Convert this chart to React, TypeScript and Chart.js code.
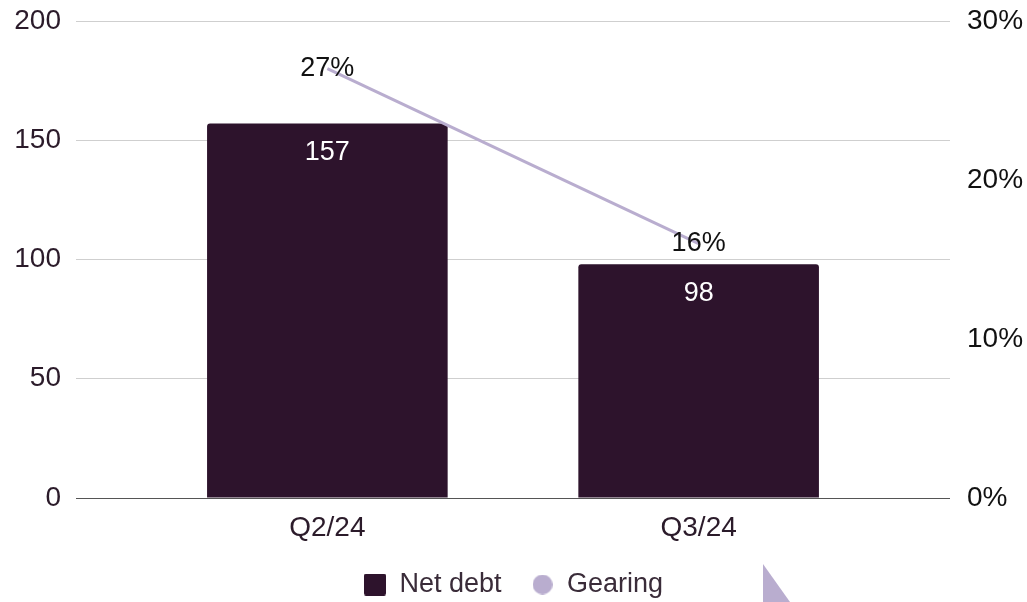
import React, { useEffect, useRef } from 'react';
import { Chart, registerables } from 'chart.js';

Chart.register(...registerables);

const categories = ['Q2/24', 'Q3/24'];
const netDebt = [157, 98];
const gearing = [0.27, 0.16];
const leftTicks = [0, 50, 100, 150, 200];
const rightTicks = [0, 0.1, 0.2, 0.3];
const seriesNames = ['Net debt', 'Gearing'];

const BAR = '#2d132c';
const LINE = '#b9adcf';
const AXIS_TEXT = '#2b1b2a';
const FONT = '"Liberation Sans", Arial, sans-serif';

function makeIcon(kind: string, color: string, size: number) {
  const c = document.createElement('canvas');
  c.width = size;
  c.height = size;
  const ctx = c.getContext('2d')!;
  ctx.fillStyle = color;
  ctx.beginPath();
  if (kind === 'circle') {
    ctx.arc(size / 2, size / 2, size / 2, 0, Math.PI * 2);
  } else {
    (ctx as any).roundRect(0, 0, size, size, 2);
  }
  ctx.fill();
  return c;
}

const valueLabels = {
  id: 'valueLabels',
  afterDatasetsDraw(chart: any) {
    const ctx = chart.ctx;
    ctx.save();
    ctx.textAlign = 'center';
    ctx.textBaseline = 'middle';
    ctx.font = `27px ${FONT}`;
    chart.getDatasetMeta(0).data.forEach((el: any, i: number) => {
      ctx.fillStyle = '#ffffff';
      ctx.fillText(String(netDebt[i]), el.x, el.y + 29);
    });
    chart.getDatasetMeta(1).data.forEach((el: any, i: number) => {
      ctx.fillStyle = '#111111';
      ctx.fillText(Math.round(gearing[i] * 100) + '%', el.x, el.y);
    });
    ctx.restore();
  },
};

const cornerMark = {
  id: 'cornerMark',
  afterDraw(chart: any) {
    const ctx = chart.ctx;
    ctx.save();
    ctx.fillStyle = LINE;
    ctx.beginPath();
    ctx.moveTo(763, 564);
    ctx.lineTo(790, 602);
    ctx.lineTo(763, 602);
    ctx.closePath();
    ctx.fill();
    ctx.restore();
  },
};

export default function App() {
  const ref = useRef<HTMLCanvasElement>(null);

  useEffect(() => {
    document.body.style.margin = '0';
    const sq = makeIcon('rect', BAR, 22);
    const ci = makeIcon('circle', LINE, 20);
    const chart = new Chart(ref.current!, {
      type: 'bar',
      data: {
        datasets: [
          {
            type: 'bar',
            label: seriesNames[0],
            data: categories.map((_, i) => ({ x: i, y: netDebt[i] })),
            backgroundColor: BAR,
            borderRadius: 3,
            borderSkipped: 'bottom',
            barPercentage: 0.648,
            categoryPercentage: 1,
            yAxisID: 'y',
            order: 2,
          } as any,
          {
            type: 'line',
            label: seriesNames[1],
            data: categories.map((_, i) => ({ x: i, y: gearing[i] })),
            borderColor: LINE,
            backgroundColor: LINE,
            borderWidth: 3,
            pointRadius: 0,
            yAxisID: 'y1',
            order: 1,
          } as any,
        ],
      },
      options: {
        animation: false,
        responsive: false,
        devicePixelRatio: 1,
        layout: { padding: { top: 21, bottom: -6, left: 0, right: 0 } },
        font: { family: FONT },
        scales: {
          x: {
            type: 'linear',
            offset: false,
            bounds: 'data',
            min: -0.677,
            max: 1.677,
            afterBuildTicks: (s: any) => {
              s.ticks = categories.map((_, i) => ({ value: i }));
            },
            afterFit: (s: any) => {
              s.height = 43;
            },
            ticks: {
              callback: (v: any) => categories[v] ?? '',
              font: { size: 28, family: FONT },
              color: AXIS_TEXT,
              padding: 13,
              maxRotation: 0,
              autoSkip: false,
            },
            grid: { display: false, drawTicks: false, offset: false },
            border: { display: false },
          },
          y: {
            position: 'left',
            min: 0,
            max: 200,
            afterBuildTicks: (s: any) => {
              s.ticks = leftTicks.map((v) => ({ value: v }));
            },
            afterFit: (s: any) => {
              s.width = 76;
              s.paddingTop = 0;
              s.paddingBottom = 0;
            },
            ticks: {
              font: { size: 28, family: FONT },
              color: AXIS_TEXT,
              padding: 15,
            },
            grid: {
              drawTicks: false,
              color: (c: any) => (c.tick && c.tick.value === 0 ? '#555555' : '#cfcfcf'),
              lineWidth: 1,
            },
            border: { display: false },
          },
          y1: {
            position: 'right',
            min: 0,
            max: 0.3,
            afterBuildTicks: (s: any) => {
              s.ticks = rightTicks.map((v) => ({ value: v }));
            },
            afterFit: (s: any) => {
              s.width = 77;
              s.paddingTop = 0;
              s.paddingBottom = 0;
            },
            ticks: {
              callback: (v: any) => Math.round(v * 100) + '%',
              font: { size: 28, family: FONT },
              color: '#111111',
              padding: 17,
            },
            grid: { drawOnChartArea: false, drawTicks: false },
            border: { display: false },
          },
        },
        plugins: {
          tooltip: { enabled: false },
          legend: {
            position: 'bottom',
            labels: {
              usePointStyle: true,
              boxWidth: 22,
              boxHeight: 22,
              padding: 30,
              color: '#3a2c39',
              font: { size: 27, family: FONT },
              generateLabels: () => [
                {
                  text: seriesNames[0],
                  pointStyle: sq,
                  fillStyle: BAR,
                  strokeStyle: BAR,
                  lineWidth: 0,
                  hidden: false,
                  datasetIndex: 0,
                  fontColor: '#3a2c39',
                },
                {
                  text: seriesNames[1],
                  pointStyle: ci,
                  fillStyle: LINE,
                  strokeStyle: LINE,
                  lineWidth: 0,
                  hidden: false,
                  datasetIndex: 1,
                  fontColor: '#3a2c39',
                },
              ] as any,
            },
          },
        },
      } as any,
      plugins: [valueLabels, cornerMark],
    });
    return () => chart.destroy();
  }, []);

  return (
    <div style={{ position: 'absolute', left: 0, top: 0, width: 1027, height: 602 }}>
      <canvas ref={ref} width={1027} height={602} />
    </div>
  );
}
